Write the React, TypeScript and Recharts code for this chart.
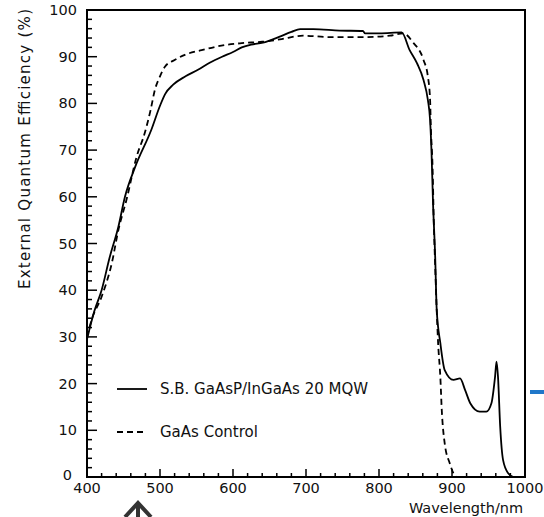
import React from 'react'
import { LineChart, Line, XAxis, YAxis, ReferenceArea, Legend } from 'recharts'

// S.B. GaAsP/InGaAs 20 MQW (solid)
const mqwWavelength = [
  400, 410, 420, 431, 443, 452, 466, 488, 500, 507, 518, 535, 552, 568, 585, 600, 612, 625, 641, 664, 680,
  692, 710, 746, 778, 781, 801, 831, 842, 852, 861, 867, 870, 872, 874, 877, 879, 884, 890, 902, 911, 918,
  925, 938, 947, 954, 959, 961, 963, 966, 970, 977, 984,
]
const mqwEqe = [
  29.5, 35.5, 40, 47, 53.6, 60, 66.4, 74.3, 79.5, 82, 84, 85.8, 87.2, 88.7, 90, 91, 92, 92.6, 93, 94.3, 95.3,
  95.9, 95.9, 95.6, 95.5, 95, 95, 95.2, 91.4, 88.6, 85, 80.7, 76.4, 69.3, 58.7, 47, 36, 28.7, 22.9, 20.8, 21.1,
  18.6, 15.8, 14, 14, 15.8, 21.5, 24.7, 21.5, 10.8, 3.6, 0.8, 0,
]

// GaAs Control (dashed)
const controlWavelength = [
  400, 406, 420, 434, 443, 454, 468, 479, 487, 493, 500, 507, 520, 534, 557, 589, 612, 640, 664, 696, 733,
  778, 815, 833, 847, 861, 867, 870, 871, 873.5, 875, 877, 879, 881, 884, 886, 890, 897, 902, 906,
]
const controlEqe = [
  30, 33.5, 38.6, 45.8, 52.9, 59.3, 68.6, 73.6, 78.5, 82.9, 85.8, 87.9, 89.3, 90.4, 91.4, 92.5, 92.9, 93.2,
  93.7, 94.5, 94.2, 94.2, 94.5, 95, 93, 89.3, 85.7, 80.7, 75, 65.7, 55, 45, 36, 28.6, 21.5, 14.3, 7.2, 2.9,
  0.8, 0,
]

const seriesNames = ['S.B. GaAsP/InGaAs 20 MQW', 'GaAs Control']

const range = (a: number, b: number, step: number) => {
  const out: number[] = []
  for (let v = a; v <= b; v += step) out.push(v)
  return out
}
const xTicks = range(400, 1000, 20)
const yTicks = range(0, 100, 2)

const mqwData = mqwWavelength.map((x, i) => ({ x, y: mqwEqe[i] }))
const controlData = controlWavelength.map((x, i) => ({ x, y: controlEqe[i] }))

const FONT = '"DejaVu Sans", sans-serif'

const XTick = (props: any) => {
  const { x, y, payload } = props
  const major = payload.value % 100 === 0
  return (
    <g>
      <line x1={x} y1={y} x2={x} y2={y - (major ? 8 : 4)} stroke="#000" strokeWidth={1.5} />
      {major && (
        <text x={x} y={y + 16} textAnchor="middle" fontSize={14.5} fontFamily={FONT} fill="#111">
          {payload.value}
        </text>
      )}
    </g>
  )
}

const YTick = (props: any) => {
  const { x, y, payload } = props
  const major = payload.value % 10 === 0
  const zero = payload.value === 0
  return (
    <g>
      <line x1={x} y1={y} x2={x + (major ? 10 : 5)} y2={y} stroke="#000" strokeWidth={1.5} />
      {major && (
        <text x={x - (zero ? 15 : 10)} y={y + (zero ? 3 : 5)} textAnchor="end" fontSize={14.5} fontFamily={FONT} fill="#111">
          {payload.value}
        </text>
      )}
    </g>
  )
}

const LegendBox = () => (
  <svg width={300} height={70} style={{ display: 'block' }}>
    <line x1={7} y1={19} x2={37} y2={19} stroke="#000" strokeWidth={1.8} />
    <text x={50} y={24} fontSize={15} fontFamily={FONT} fill="#111">{seriesNames[0]}</text>
    <line x1={7} y1={62} x2={37} y2={62} stroke="#000" strokeWidth={1.8} strokeDasharray="6 4" />
    <text x={50} y={67} fontSize={15} fontFamily={FONT} fill="#111">{seriesNames[1]}</text>
  </svg>
)

export default function App() {
  return (
    <div style={{ position: 'relative', width: 544, height: 517, background: '#fff' }}>
      <style>{'body{margin:0}'}</style>
      <LineChart width={544} height={517} margin={{ top: 10, right: 19, bottom: 0, left: 0 }}>
        <XAxis
          dataKey="x"
          type="number"
          domain={[400, 1000]}
          ticks={xTicks}
          interval={0}
          allowDataOverflow
          height={40}
          tickSize={0}
          tickMargin={0}
          tickLine={false}
          tick={<XTick />}
          axisLine={{ stroke: '#000', strokeWidth: 2 }}
        />
        <YAxis
          type="number"
          domain={[0, 100]}
          ticks={yTicks}
          interval={0}
          allowDataOverflow
          width={87}
          tickSize={0}
          tickMargin={0}
          tickLine={false}
          tick={<YTick />}
          axisLine={{ stroke: '#000', strokeWidth: 2 }}
        />
        <ReferenceArea x1={400} x2={1000} y1={0} y2={100} fill="none" stroke="#000" strokeWidth={2} ifOverflow="visible" />
        <Legend
          layout="vertical"
          align="center"
          verticalAlign="middle"
          content={<LegendBox />}
          wrapperStyle={{ left: 110, top: 370, width: 300 }}
        />
        <Line
          data={mqwData}
          dataKey="y"
          name={seriesNames[0]}
          type="monotone"
          stroke="#000"
          strokeWidth={1.8}
          dot={false}
          isAnimationActive={false}
        />
        <Line
          data={controlData}
          dataKey="y"
          name={seriesNames[1]}
          type="monotone"
          stroke="#000"
          strokeWidth={1.8}
          strokeDasharray="6 4"
          dot={false}
          isAnimationActive={false}
        />
      </LineChart>
      <svg width={544} height={517} style={{ position: 'absolute', left: 0, top: 0, pointerEvents: 'none' }}>
        <text
          transform="translate(30,149) rotate(-90)"
          textAnchor="middle"
          fontSize={15}
          fontFamily={FONT}
          fill="#111"
          textLength={280}
          lengthAdjust="spacing"
        >
          External Quantum Efficiency (%)
        </text>
        <text x={466} y={513} textAnchor="middle" fontSize={14.5} fontFamily={FONT} fill="#111">
          Wavelength/nm
        </text>
        <line x1={530} y1={392} x2={544} y2={392} stroke="#1f77c9" strokeWidth={4} />
        <polyline points="125,517 138,503 151,517" fill="none" stroke="#333" strokeWidth={4} />
        <line x1={138} y1={505} x2={138} y2={517} stroke="#333" strokeWidth={4} />
      </svg>
    </div>
  )
}
